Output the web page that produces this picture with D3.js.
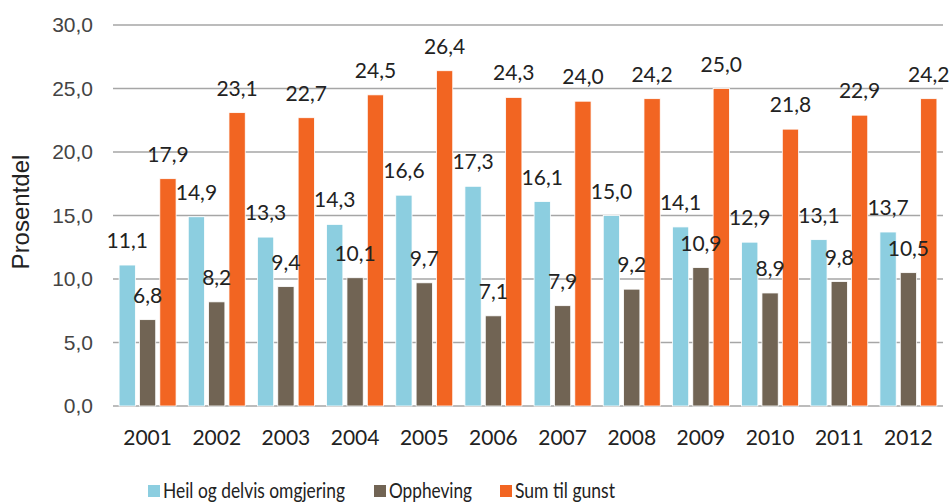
<!DOCTYPE html>
<html>
<head>
<meta charset="utf-8">
<script src="https://cdn.jsdelivr.net/npm/d3@7"></script>
<style>
  body { margin: 0; background: #fff; }
</style>
</head>
<body>
<script>
var years = ["2001","2002","2003","2004","2005","2006","2007","2008","2009","2010","2011","2012"];
var seriesNames = ["Heil og delvis omgjering", "Oppheving", "Sum til gunst"];
var heil = [11.1,14.9,13.3,14.3,16.6,17.3,16.1,15.0,14.1,12.9,13.1,13.7];
var oppheving = [6.8,8.2,9.4,10.1,9.7,7.1,7.9,9.2,10.9,8.9,9.8,10.5];
var sumGunst = [17.9,23.1,22.7,24.5,26.4,24.3,24.0,24.2,25.0,21.8,22.9,24.2];
var yTicks = [0,5,10,15,20,25,30];
var colors = ["#8ccee0", "#716454", "#f26522"];

var margin = {top: 25, right: 8, bottom: 96, left: 113},
    width = 951 - margin.left - margin.right,
    height = 502 - margin.top - margin.bottom;

var fmt = function (v) { return v.toFixed(1).replace(".", ","); };

var svg = d3.select("body").append("svg")
    .attr("width", 951)
    .attr("height", 502)
  .append("g")
    .attr("transform", "translate(" + margin.left + "," + margin.top + ")");

var x0 = d3.scaleBand().domain(years).range([0, width])
    .paddingInner(0.176).paddingOuter(0.088);
var x1 = d3.scaleBand().domain([0, 1, 2]).range([0, x0.bandwidth()])
    .paddingInner(0.2).paddingOuter(0);
var y = d3.scaleLinear().domain([0, 30]).range([height, 0]);

// grid lines
svg.selectAll(".grid")
    .data(yTicks)
    .enter().append("line")
    .attr("class", "grid")
    .attr("x1", 0).attr("x2", width)
    .attr("y1", function (d) { return y(d); })
    .attr("y2", function (d) { return y(d); })
    .style("stroke", "#a6a6a6")
    .style("stroke-width", 1.5);

// y axis labels
var yAxis = d3.axisLeft(y).tickValues(yTicks).tickFormat(fmt).tickSize(0).tickPadding(20);
var ya = svg.append("g").call(yAxis);
ya.select(".domain").remove();
ya.selectAll("text")
    .style("font-family", "'Liberation Sans', Arial, sans-serif")
    .style("font-size", "21px")
    .style("fill", "#444");

svg.append("text")
    .attr("transform", "translate(" + (21 - margin.left) + "," + (212 - margin.top) + ") rotate(-90)")
    .attr("text-anchor", "middle")
    .attr("dy", "0.35em")
    .style("font-family", "'Liberation Sans', Arial, sans-serif")
    .style("font-size", "24px")
    .style("fill", "#222")
    .text("Prosentdel");

// x axis labels
var xAxis = d3.axisBottom(x0).tickSize(0).tickPadding(24);
var xa = svg.append("g").attr("transform", "translate(0," + height + ")").call(xAxis);
xa.select(".domain").remove();
xa.selectAll("text")
    .style("font-family", "Lato, sans-serif")
    .style("font-size", "21px")
    .style("fill", "#222");

var rows = years.map(function (yr, i) {
  return {year: yr, vals: [heil[i], oppheving[i], sumGunst[i]]};
});

var groups = svg.selectAll(".grp")
    .data(rows)
    .enter().append("g")
    .attr("class", "grp")
    .attr("transform", function (d) { return "translate(" + x0(d.year) + ",0)"; });

var cells = groups.selectAll(".cell")
    .data(function (d) { return d.vals.map(function (v, k) { return {k: k, v: v}; }); })
    .enter();

cells.append("rect")
    .attr("x", function (d) { return x1(d.k); })
    .attr("width", x1.bandwidth())
    .attr("y", function (d) { return y(d.v); })
    .attr("height", function (d) { return height - y(d.v); })
    .style("fill", function (d) { return colors[d.k]; })
    .style("stroke", "#fff")
    .style("stroke-width", 0.8);

cells.append("text")
    .attr("x", function (d) { return x1(d.k) + x1.bandwidth() / 2; })
    .attr("y", function (d) { return y(d.v) - 17; })
    .attr("text-anchor", "middle")
    .style("font-family", "Lato, sans-serif")
    .style("font-size", "21px")
    .style("fill", "#222")
    .text(function (d) { return fmt(d.v); });

// legend (narrow face in the original, squeeze Lato to fit)
var legendX = [148, 374, 500];
var legendLen = [182, 83, 100];
var legend = d3.select("svg").selectAll(".leg")
    .data(seriesNames)
    .enter().append("g")
    .attr("class", "leg")
    .attr("transform", function (d, i) { return "translate(" + legendX[i] + ",485)"; });

legend.append("rect")
    .attr("width", 12).attr("height", 12)
    .style("fill", function (d, i) { return colors[i]; });

legend.append("text")
    .attr("x", 15)
    .attr("y", 6)
    .attr("dy", "0.35em")
    .attr("textLength", function (d, i) { return legendLen[i]; })
    .attr("lengthAdjust", "spacingAndGlyphs")
    .style("font-family", "Lato, sans-serif")
    .style("font-size", "21px")
    .style("fill", "#222")
    .text(function (d) { return d; });
</script>
</body>
</html>
